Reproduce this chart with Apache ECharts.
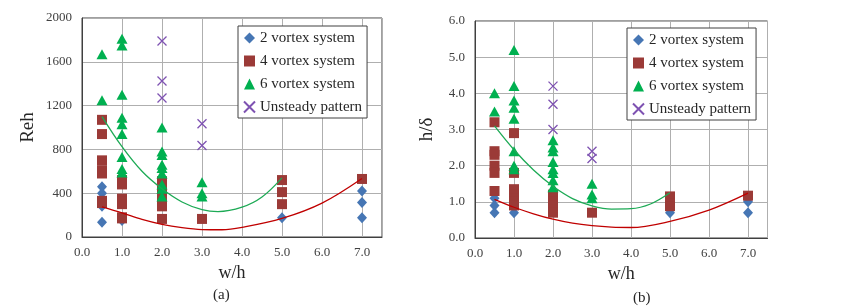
<!DOCTYPE html>
<html>
<head>
    <meta charset="utf-8">
    <title>Reh and h/delta vs w/h</title>
    <script src="https://cdn.jsdelivr.net/npm/echarts@6/dist/echarts.min.js"></script>
    <style>
        body { margin: 0; background: #fff; }
    </style>
</head>
<body>
<div id="main" style="width: 851px;height:306px;"></div>
<script type="text/javascript">
    // names of the flow patterns
    var names = ['2 vortex system', '4 vortex system', '6 vortex system', 'Unsteady pattern'];

    // (a) Reh against w/h
    var reh2 = [[0.5, 460], [0.5, 400], [0.5, 280], [0.5, 135], [1, 150], [5, 175], [7, 420], [7, 315], [7, 175]];
    var reh4 = [[0.5, 1070], [0.5, 940], [0.5, 700], [0.5, 610], [0.5, 580], [0.5, 330], [0.5, 310],
        [1, 520], [1, 480], [1, 350], [1, 320], [1, 300], [1, 180], [1, 170],
        [2, 510], [2, 470], [2, 400], [2, 330], [2, 280], [2, 165], [3, 165],
        [5, 520], [5, 410], [5, 300], [7, 530]];
    var reh6 = [[0.5, 1670], [0.5, 1250],
        [1, 1810], [1, 1750], [1, 1300], [1, 1090], [1, 1030], [1, 940], [1, 730], [1, 620], [1, 590],
        [2, 1000], [2, 780], [2, 750], [2, 660], [2, 630], [2, 580], [2, 480], [2, 440], [2, 370],
        [3, 500], [3, 400], [3, 370]];
    var rehU = [[2, 1790], [2, 1425], [2, 1270], [3, 1035], [3, 835]];
    // trend lines
    var rehFit4 = [[0.5, 275], [1, 220], [1.5, 160], [2, 115], [2.5, 85], [3, 68], [3.5, 66], [4, 88], [5, 170], [6, 310], [7, 535]];
    var rehFit6 = [[0.5, 1100], [1, 825], [1.5, 600], [2, 440], [2.5, 320], [3, 250], [3.4, 232], [4, 272], [4.5, 365], [5, 540]];

    // (b) h/delta against w/h
    var hd2 = [[0.5, 1.1], [0.5, 0.9], [0.5, 0.7], [1, 0.7], [5, 0.7], [7, 1.0], [7, 0.7]];
    var hd4 = [[0.5, 3.2], [0.5, 2.4], [0.5, 2.3], [0.5, 2.0], [0.5, 1.8], [0.5, 1.3],
        [1, 2.9], [1, 1.8], [1, 1.35], [1, 1.2], [1, 1.1], [1, 1.0], [1, 0.9],
        [2, 1.2], [2, 1.1], [2, 1.0], [2, 0.9], [2, 0.8], [2, 0.7], [3, 0.7],
        [5, 1.15], [5, 1.05], [5, 0.95], [5, 0.88], [7, 1.17]];
    var hd6 = [[0.5, 4.0], [0.5, 3.5],
        [1, 5.2], [1, 4.2], [1, 3.8], [1, 3.6], [1, 3.3], [1, 2.4], [1, 2.0], [1, 1.9],
        [2, 2.7], [2, 2.5], [2, 2.4], [2, 2.1], [2, 1.9], [2, 1.8], [2, 1.6], [2, 1.4],
        [3, 1.5], [3, 1.2], [3, 1.1]];
    var hdU = [[2, 4.2], [2, 3.7], [2, 3.0], [3, 2.4], [3, 2.2]];
    var hdFit4 = [[0.5, 1.07], [1, 0.85], [1.5, 0.67], [2, 0.52], [2.5, 0.41], [3, 0.34], [3.5, 0.3], [4, 0.29], [5, 0.46], [6, 0.77], [7, 1.24]];
    var hdFit6 = [[0.5, 3.1], [1, 2.44], [1.5, 1.88], [2, 1.43], [2.5, 1.09], [3, 0.89], [3.5, 0.8], [4, 0.81], [4.5, 0.94], [5, 1.25]];

    var font = "'Liberation Serif', 'DejaVu Serif', serif";
    var colors = ['#4676B4', '#9B3A37', '#00B050', '#7E52B2'];
    var crossPath = 'path://M0,0L10,10M10,0L0,10';

    var chartDom = document.getElementById('main');
    var myChart = echarts.init(chartDom);

    function xAxisFor(gi) {
        return {
            type: 'value', gridIndex: gi, min: 0, max: 7.5, interval: 1,
            name: 'w/h', nameLocation: 'middle', nameGap: 25,
            nameTextStyle: {fontFamily: font, fontSize: 18, color: '#262626'},
            axisLine: {show: true, lineStyle: {color: '#404040'}},
            axisTick: {show: false},
            axisLabel: {
                fontFamily: font, fontSize: 13, color: '#404040', margin: 9, showMaxLabel: false,
                formatter: function (v) { return v.toFixed(1); }
            },
            splitLine: {show: true, lineStyle: {color: '#AFAFAF', width: 1}}
        };
    }

    function scatter(name, data, gi, symbol, size, idx) {
        var s = {
            name: name, type: 'scatter', xAxisIndex: gi, yAxisIndex: gi,
            data: data, symbol: symbol, symbolSize: size, z: 2 + idx,
            itemStyle: {color: colors[idx], opacity: 1}
        };
        if (symbol === crossPath) {
            s.itemStyle = {color: 'rgba(0,0,0,0)', borderColor: colors[idx], borderWidth: 1.3, opacity: 1};
        }
        return s;
    }

    function fitLine(data, gi, color) {
        return {
            type: 'line', xAxisIndex: gi, yAxisIndex: gi, data: data,
            smooth: 0.35, showSymbol: false, silent: true, z: 10,
            lineStyle: {color: color, width: 1.3}
        };
    }

    function legendFor(left, top) {
        return {
            data: names, orient: 'vertical', left: left, top: top,
            padding: [4, 5, 3, 5], itemGap: 7, itemWidth: 11, itemHeight: 11,
            backgroundColor: '#fff', borderColor: '#404040', borderWidth: 1,
            textStyle: {fontFamily: font, fontSize: 15, color: '#262626', lineHeight: 16},
            selectedMode: false, z: 20
        };
    }

    var series = [];
    [[reh2, reh4, reh6, rehU, rehFit4, rehFit6], [hd2, hd4, hd6, hdU, hdFit4, hdFit6]].forEach(function (set, gi) {
        series.push(scatter(names[0], set[0], gi, 'diamond', [10, 11], 0));
        series.push(scatter(names[1], set[1], gi, 'rect', 10, 1));
        series.push(scatter(names[2], set[2], gi, 'triangle', [11, 10], 2));
        series.push(scatter(names[3], set[3], gi, crossPath, 9, 3));
        series.push(fitLine(set[4], gi, '#C00000'));
        series.push(fitLine(set[5], gi, '#1DAA55'));
    });

    var option = {
        animation: false,
        backgroundColor: '#fff',
        grid: [
            {left: 82, top: 18, width: 300, height: 219, show: true, borderColor: '#404040', borderWidth: 1},
            {left: 475, top: 21, width: 292.5, height: 217, show: true, borderColor: '#404040', borderWidth: 1}
        ],
        legend: [legendFor(238, 26), legendFor(627, 28)],
        xAxis: [xAxisFor(0), xAxisFor(1)],
        yAxis: [
            {
                type: 'value', gridIndex: 0, min: 0, max: 2000, interval: 400,
                name: 'Reh', nameLocation: 'middle', nameGap: 44, nameRotate: 90,
                nameTextStyle: {fontFamily: font, fontSize: 19, color: '#262626'},
                axisLine: {show: true, lineStyle: {color: '#404040'}},
                axisTick: {show: false},
                axisLabel: {
                    fontFamily: font, fontSize: 13, color: '#404040', margin: 10,
                    formatter: function (v) { return String(v); }
                },
                splitLine: {show: true, lineStyle: {color: '#AFAFAF', width: 1}}
            },
            {
                type: 'value', gridIndex: 1, min: 0, max: 6, interval: 1,
                name: 'h/δ', nameLocation: 'middle', nameGap: 38, nameRotate: 90,
                nameTextStyle: {fontFamily: font, fontSize: 19, color: '#262626'},
                axisLine: {show: true, lineStyle: {color: '#404040'}},
                axisTick: {show: false},
                axisLabel: {
                    fontFamily: font, fontSize: 13, color: '#404040', margin: 10,
                    formatter: function (v) { return v.toFixed(1); }
                },
                splitLine: {show: true, lineStyle: {color: '#AFAFAF', width: 1}}
            }
        ],
        graphic: [
            {type: 'text', left: 213, top: 288, style: {text: '(a)', font: '15px ' + font, fill: '#262626'}},
            {type: 'text', left: 633, top: 291, style: {text: '(b)', font: '15px ' + font, fill: '#262626'}}
        ],
        series: series
    };

    if (option && typeof option === 'object') {
        myChart.setOption(option);
    }
</script>
</body>
</html>
